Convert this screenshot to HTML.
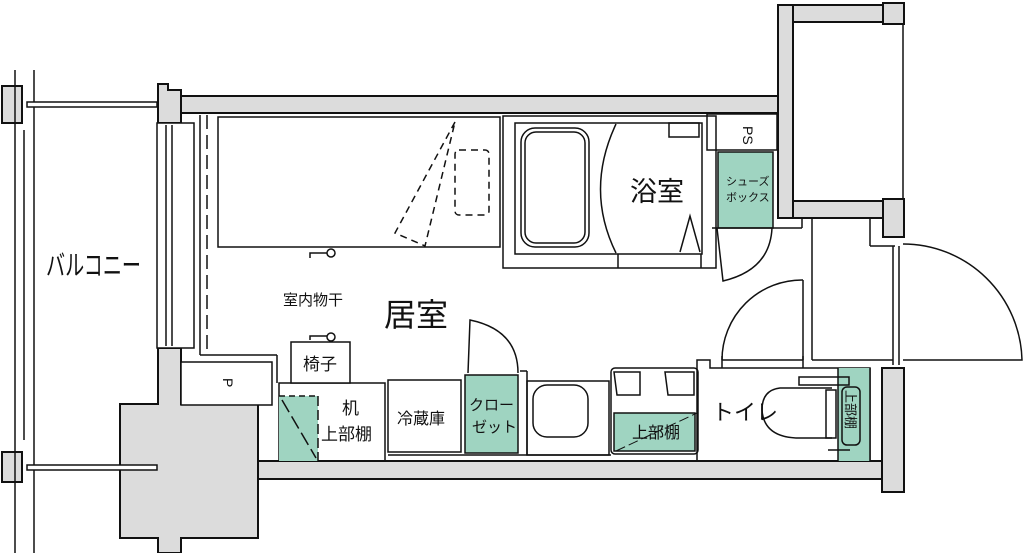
<!DOCTYPE html>
<html><head><meta charset="utf-8"><style>
html,body{margin:0;padding:0;background:#fff;width:1024px;height:553px;overflow:hidden}
svg{display:block}
text{font-family:"Liberation Sans","Noto Sans CJK JP",sans-serif;fill:#111}
</style></head><body>
<svg width="1024" height="553" viewBox="0 0 1024 553" xmlns="http://www.w3.org/2000/svg">
<g stroke="#111" stroke-width="2" fill="#dcdcdc">
<rect x="180" y="96" width="598" height="17"/>
<rect x="778" y="5" width="15" height="213"/>
<rect x="793" y="5" width="90" height="17"/>
<rect x="883" y="3" width="21" height="21"/>
<rect x="793" y="201" width="90" height="17"/>
<rect x="883" y="199" width="21" height="38"/>
<rect x="258" y="461" width="624" height="18"/>
<rect x="882" y="368" width="22" height="124"/>
<path d="M158 348 H181 V404 H258 V538 H181 V553 H158 V538 H120 V404 H158 Z"/>
<path d="M158 84 H168 V90 H181 V123 H158 Z"/>
<rect x="2" y="86" width="20" height="37"/>
<rect x="2" y="452" width="20" height="30"/>
</g>
<g stroke="#111" stroke-width="1.5" fill="none">
<line x1="903" y1="24" x2="903" y2="199"/>
<line x1="15" y1="70" x2="15" y2="553"/>
<line x1="24" y1="130" x2="24" y2="440"/>
<line x1="34" y1="70" x2="34" y2="553"/>
<rect x="27" y="102" width="130" height="5" fill="#fff"/>
<rect x="27" y="465" width="130" height="5" fill="#fff"/>
<rect x="157" y="123" width="37" height="225" fill="#fff"/>
<line x1="166" y1="125" x2="166" y2="346"/>
<line x1="172" y1="125" x2="172" y2="346"/>
<line x1="200" y1="115" x2="200" y2="355"/>
<line x1="207" y1="115" x2="207" y2="355" stroke-dasharray="14 6"/>
<line x1="200" y1="355" x2="277" y2="355"/>
<line x1="277" y1="355" x2="277" y2="383"/>
<rect x="181" y="362" width="91" height="43" fill="#fff"/>
<rect x="218" y="117" width="282" height="130"/>
<path d="M455 122 L395 233 L425 246 Z" stroke-dasharray="7 5"/>
<rect x="455" y="150" width="34" height="65" rx="4" stroke-dasharray="7 5"/>
<path d="M310 258 V253 H327"/><circle cx="331" cy="253" r="4" fill="#fff"/>
<path d="M310 340 V336 H327"/><circle cx="331" cy="337" r="4" fill="#fff"/>
<rect x="503" y="116" width="213" height="152"/>
<rect x="515" y="123" width="187" height="131"/>
<rect x="521" y="128" width="68" height="119" rx="14"/>
<rect x="525" y="132" width="60" height="111" rx="11"/>
<path d="M616 124 Q585 190 616 253"/>
<rect x="669" y="123" width="30" height="14"/>
<path d="M680 252 L690 216 L700 252"/>
<line x1="618" y1="254" x2="618" y2="268"/><line x1="701" y1="254" x2="701" y2="268"/>
<rect x="707" y="114" width="70" height="36"/>
<rect x="718" y="152" width="55" height="76" fill="#9fd4c1"/>
<path d="M717 228 L723 281 Q770 270 772 228"/>
<line x1="712" y1="228" x2="802" y2="228"/>
<line x1="802" y1="218" x2="802" y2="228"/>
<line x1="812" y1="218" x2="812" y2="360"/>
<line x1="803" y1="280" x2="803" y2="360"/>
<line x1="870" y1="218" x2="870" y2="246"/>
<line x1="870" y1="246" x2="895" y2="246"/>
<line x1="893" y1="246" x2="893" y2="365"/>
<line x1="899" y1="246" x2="899" y2="365"/>
<path d="M903 244 A119 119 0 0 1 1022 360 H903"/>
<path d="M722 360 A80 80 0 0 1 803 280"/>
<line x1="722" y1="360" x2="803" y2="360"/>
<line x1="722" y1="356" x2="722" y2="368"/>
<line x1="803" y1="356" x2="803" y2="368"/>
<line x1="812" y1="360" x2="893" y2="360"/>
<path d="M697 461 V360 H710 V368 H870 V461"/>
<rect x="838" y="368" width="32" height="93" fill="#9fd4c1" stroke="none"/>
<line x1="838" y1="368" x2="838" y2="461"/>
<line x1="870" y1="368" x2="870" y2="461"/>
<rect x="799" y="377" width="50" height="8"/>
<path d="M832 388 H780 Q762 390 762 410 Q764 438 800 438 H832"/>
<rect x="826" y="390" width="10" height="48"/>
<rect x="842" y="387" width="18" height="58" rx="5"/>
<line x1="828" y1="450" x2="850" y2="450"/>
<rect x="527" y="381" width="82" height="74"/>
<rect x="533" y="385" width="55" height="52" rx="14"/>
<rect x="611" y="368" width="87" height="86" rx="4"/>
<rect x="614" y="413" width="81" height="38" fill="#9fd4c1"/>
<path d="M614 372 H640 V395 H617 Z"/><path d="M665 372 H694 V395 H668 Z"/>
<line x1="616" y1="451" x2="697" y2="413" stroke-width="1" stroke-dasharray="10 4"/>
<rect x="465" y="375" width="53" height="78" fill="#9fd4c1"/>
<path d="M468 373 L470 320 Q518 330 518 373"/>
<line x1="520" y1="371" x2="527" y2="371"/><line x1="527" y1="371" x2="527" y2="455"/>
<rect x="388" y="380" width="73" height="72"/>
<line x1="388" y1="455" x2="611" y2="455"/>
<rect x="279" y="383" width="106" height="78"/>
<rect x="279" y="396" width="39" height="65" fill="#9fd4c1" stroke="none"/>
<line x1="279" y1="396" x2="318" y2="396" stroke-dasharray="6 4"/>
<line x1="318" y1="396" x2="318" y2="461" stroke-dasharray="10 4"/>
<line x1="282" y1="400" x2="316" y2="458" stroke-dasharray="14 5"/>
<rect x="291" y="342" width="59" height="41" fill="#fff"/>
</g>
<g>
<text x="46" y="275" font-size="28" textLength="95" lengthAdjust="spacingAndGlyphs">バルコニー</text>
<text x="283" y="305" font-size="15">室内物干</text>
<text x="384" y="326" font-size="32">居室</text>
<text x="630" y="201" font-size="27">浴室</text>
<text x="726" y="185" font-size="11">シューズ</text>
<text x="726" y="201" font-size="11">ボックス</text>
<text x="743" y="126" font-size="14" transform="rotate(90 743 126)">PS</text>
<text x="223" y="378" font-size="14" transform="rotate(90 223 378)">P</text>
<text x="303" y="370" font-size="17">椅子</text>
<text x="342" y="414" font-size="17">机</text>
<text x="321" y="440" font-size="17">上部棚</text>
<text x="397" y="424" font-size="16">冷蔵庫</text>
<text x="469" y="410" font-size="15">クロー</text>
<text x="472" y="432" font-size="15">ゼット</text>
<text x="632" y="438" font-size="16">上部棚</text>
<text x="712" y="420" font-size="22">トイレ</text>
<text x="846" y="390" font-size="13" transform="rotate(90 846 390)">上部棚</text>
</g>
</svg>
</body></html>
